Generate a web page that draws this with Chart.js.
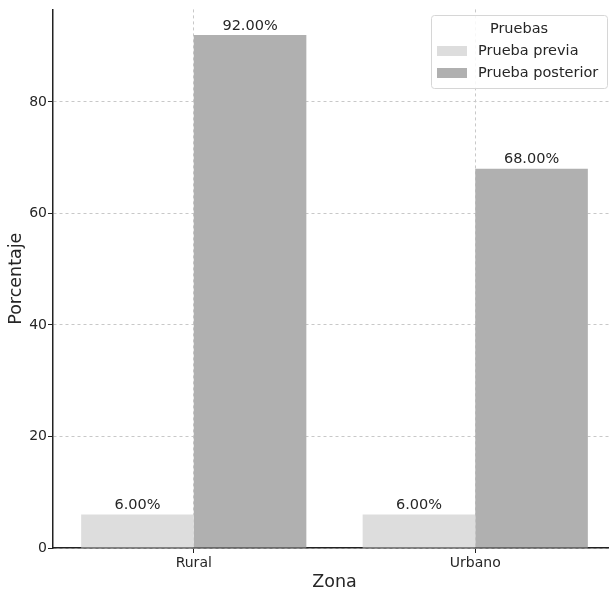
<!DOCTYPE html>
<html>
<head>
<meta charset="utf-8">
<script src="https://cdn.jsdelivr.net/npm/chart.js@4.4.1/dist/chart.umd.min.js"></script>
<style>
  html, body { margin: 0; padding: 0; background: #fff; overflow: hidden; }
  #wrap { position: relative; width: 616px; height: 593px; }
</style>
</head>
<body>
<div id="wrap"><canvas id="chart"></canvas></div>
<script>
// Pre/post test percentages by zone
const ZONAS = ['Rural', 'Urbano'];
const PRUEBA_PREVIA = [6, 6];
const PRUEBA_POSTERIOR = [92, 68];
const SERIES_NAMES = ['Prueba previa', 'Prueba posterior'];
const SERIES_COLORS = ['#dddddd', '#b0b0b0'];
const Y_TICKS = [0, 20, 40, 60, 80];
const FONT = 'DejaVu Sans, sans-serif';

// Percent labels above each bar
const barLabels = {
    id: 'barLabels',
    afterDatasetsDraw(chart) {
        const ctx = chart.ctx;
        ctx.save();
        ctx.font = `14.5px ${FONT}`;
        ctx.fillStyle = '#262626';
        ctx.textAlign = 'center';
        ctx.textBaseline = 'bottom';
        chart.data.datasets.forEach((ds, i) => {
            chart.getDatasetMeta(i).data.forEach((bar, j) => {
                ctx.fillText(ds.data[j].toFixed(2) + '%', bar.x, bar.y - 2);
            });
        });
        ctx.restore();
    }
};

// Legend box drawn inside the plot, top-right
const insideLegend = {
    id: 'insideLegend',
    afterDraw(chart) {
        const ctx = chart.ctx;
        const x = 431, y = 15, w = 176, h = 73;
        ctx.save();
        ctx.fillStyle = 'rgba(255,255,255,0.85)';
        ctx.strokeStyle = '#d6d6d6';
        ctx.lineWidth = 1;
        ctx.beginPath();
        ctx.roundRect(x + 0.5, y + 0.5, w, h, 3);
        ctx.fill();
        ctx.stroke();
        ctx.font = `14.5px ${FONT}`;
        ctx.fillStyle = '#262626';
        ctx.textBaseline = 'middle';
        ctx.textAlign = 'center';
        ctx.fillText('Pruebas', 519, 29);
        ctx.textAlign = 'left';
        chart.data.datasets.forEach((ds, i) => {
            const cy = 51 + i * 22;
            ctx.fillStyle = ds.backgroundColor;
            ctx.fillRect(437, cy - 5, 30, 10);
            ctx.fillStyle = '#262626';
            ctx.fillText(ds.label, 478, cy);
        });
        ctx.restore();
    }
};

const ctx = document.getElementById('chart').getContext('2d');
new Chart(ctx, {
    type: 'bar',
    data: {
        labels: ZONAS,
        datasets: [
            { label: SERIES_NAMES[0], data: PRUEBA_PREVIA, backgroundColor: SERIES_COLORS[0] },
            { label: SERIES_NAMES[1], data: PRUEBA_POSTERIOR, backgroundColor: SERIES_COLORS[1] }
        ]
    },
    options: {
        responsive: true,
        maintainAspectRatio: false,
        animation: false,
        layout: { padding: { top: 7, right: 0, left: 0, bottom: 0 } },
        datasets: { bar: { categoryPercentage: 0.8, barPercentage: 1.0 } },
        plugins: {
            legend: { display: false },
            tooltip: { enabled: false }
        },
        scales: {
            x: {
                afterFit: (s) => { s.height = 45; },
                grid: {
                    offset: false,
                    color: '#c8c8c8',
                    tickColor: '#222',
                    tickBorderDash: [],
                    tickLength: 5
                },
                border: { display: true, color: '#222', width: 1.5, dash: [3, 3] },
                ticks: { color: '#262626', font: { family: FONT, size: 14 }, padding: 2 },
                title: {
                    display: true, text: 'Zona', color: '#262626',
                    font: { family: FONT, size: 17.5 }, padding: { top: 0, bottom: 0 }
                }
            },
            y: {
                min: 0,
                max: 96.6,
                afterFit: (s) => { s.width = 53; },
                afterBuildTicks: (s) => {
                    s.ticks = Y_TICKS.map(v => ({ value: v }));
                },
                grid: {
                    color: '#c8c8c8',
                    tickColor: '#222',
                    tickBorderDash: [],
                    tickLength: 5
                },
                border: { display: true, color: '#222', width: 1.5, dash: [3, 3] },
                ticks: { color: '#262626', font: { family: FONT, size: 14 }, padding: 1 },
                title: {
                    display: true, text: 'Porcentaje', color: '#262626',
                    font: { family: FONT, size: 17.5 }, padding: { top: 6, bottom: 0 }
                }
            }
        }
    },
    plugins: [barLabels, insideLegend]
});
</script>
</body>
</html>
